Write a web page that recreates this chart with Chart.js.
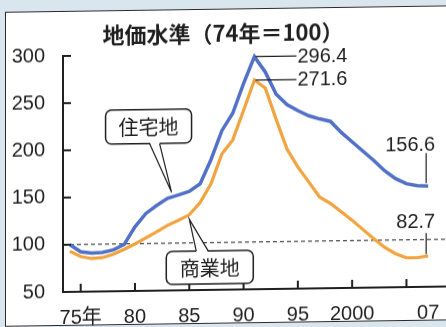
<!DOCTYPE html>
<html><head><meta charset="utf-8">
<script src="https://cdn.jsdelivr.net/npm/chart.js@4.4.1/dist/chart.umd.min.js"></script>
<style>
html,body{margin:0;padding:0;width:446px;height:327px;overflow:hidden;background:#d9e6ee;}
#wrap{position:absolute;left:0;top:0;width:446px;height:327px;transform:skewY(-0.82deg);transform-origin:63px 0;}
#panel{position:absolute;left:5px;top:11px;width:470px;height:314.5px;background:#fff;border:1.5px solid #2b2b2b;box-sizing:border-box;}
canvas{position:absolute;left:0;top:0;}
</style></head>
<body>
<div id="wrap"><div id="panel"></div><canvas id="c" width="446" height="327"></canvas></div>
<script>
const titleText = '地価水準（74年＝100）';
const years = [1974,1975,1976,1977,1978,1979,1980,1981,1982,1983,1984,1985,1986,1987,1988,1989,1990,
  1991,1992,1993,1994,1995,1996,1997,1998,1999,2000,2001,2002,2003,2004,2005,2006,2007];
const residential = [100,92.3,90.9,91.4,93.8,99.3,118,131.9,140.3,147.7,151.1,154.6,162.5,188,218.5,236.7,268,
  296.4,280,256.3,245.2,238.5,233,229.5,226.7,214.8,204.6,194.6,184.6,173.5,165,159.5,157.3,156.6];
const commercial = [93,87.4,85,85.8,89.2,94.3,99.8,106,112.4,119,124.2,129.9,142.7,162.5,193.7,208.5,239.6,
  271.6,263,229.7,198,178.8,162.9,146.7,139.7,130.8,121.6,111.6,101.6,92.5,85.4,81,81,82.7];
const seriesNames = ['住宅地','商業地'];
const xTickValues = [1975,1980,1985,1990,1995,2000,2005,2007];
const xTickLabels = ['75年','80','85','90','95','2000','','07'];
const yTickValues = [50,100,150,200,250,300];
const baseIndex = 100;
const residentialCalloutYear = 1983;
const commercialCalloutYear = 1985;

const FONT = "'Liberation Sans','Noto Sans CJK JP',Arial,sans-serif";
const CJK = "'Noto Sans CJK JP','Liberation Sans',sans-serif";
const INK = '#1f1f1f';
const BLUE = '#5171c6';
const ORANGE = '#f2a33f';

function roundRectPath(ctx, l, t, r, b, rad) {
  ctx.beginPath();
  ctx.moveTo(l + rad, t);
  ctx.lineTo(r - rad, t); ctx.arcTo(r, t, r, t + rad, rad);
  ctx.lineTo(r, b - rad); ctx.arcTo(r, b, r - rad, b, rad);
  ctx.lineTo(l + rad, b); ctx.arcTo(l, b, l, b - rad, rad);
  ctx.lineTo(l, t + rad); ctx.arcTo(l, t, l + rad, t, rad);
  ctx.closePath();
}
function callout(ctx, tip, box, baseY, b1, b2, text) {
  ctx.save();
  roundRectPath(ctx, box.l, box.t, box.r, box.b, 6);
  ctx.fillStyle = '#fff'; ctx.fill();
  ctx.strokeStyle = INK; ctx.lineWidth = 1.5; ctx.stroke();
  const inward = baseY === box.b ? -1.5 : 1.5;
  ctx.beginPath();
  ctx.moveTo(b1, baseY + inward); ctx.lineTo(tip.x, tip.y); ctx.lineTo(b2, baseY + inward); ctx.closePath();
  ctx.fillStyle = '#fff'; ctx.fill();
  ctx.lineWidth = 1.2;
  ctx.beginPath(); ctx.moveTo(b1, baseY); ctx.lineTo(tip.x, tip.y); ctx.lineTo(b2, baseY); ctx.stroke();
  ctx.fillStyle = INK; ctx.font = '20px ' + CJK; ctx.textAlign = 'center'; ctx.textBaseline = 'middle';
  ctx.fillText(text, (box.l + box.r) / 2, (box.t + box.b) / 2 + 1);
  ctx.restore();
}

const decor = {
  id: 'decor',
  beforeDatasetsDraw(chart) {
    const {ctx, chartArea: a, scales: {y}} = chart;
    const yy = y.getPixelForValue(baseIndex);
    ctx.save();
    ctx.strokeStyle = INK; ctx.lineWidth = 1.1; ctx.setLineDash([4, 3]);
    ctx.beginPath(); ctx.moveTo(a.left, yy); ctx.lineTo(a.right, yy); ctx.stroke();
    ctx.restore();
  },
  afterDraw(chart) {
    const {ctx, chartArea: a, scales: {x, y}} = chart;
    ctx.save();
    ctx.strokeStyle = INK; ctx.lineWidth = 2;
    xTickValues.filter(v => v % 5 === 0).forEach(v => {
      const px = x.getPixelForValue(v);
      ctx.beginPath(); ctx.moveTo(px, a.bottom); ctx.lineTo(px, a.bottom - 8); ctx.stroke();
    });
    yTickValues.forEach(v => {
      const py = y.getPixelForValue(v);
      ctx.beginPath(); ctx.moveTo(a.left - 1, py); ctx.lineTo(a.left + 8, py); ctx.stroke();
    });
    ctx.lineWidth = 1.2;
    ctx.fillStyle = INK; ctx.font = '20px ' + FONT; ctx.textBaseline = 'middle';
    [residential, commercial].forEach(arr => {
      const i = arr.indexOf(Math.max(...arr));
      const px = x.getPixelForValue(years[i]), py = y.getPixelForValue(arr[i]);
      ctx.beginPath(); ctx.moveTo(px + 1, py); ctx.lineTo(px + 42, py); ctx.stroke();
      ctx.textAlign = 'left';
      ctx.fillText(String(arr[i]), px + 43, py + 1);
    });
    const last = years.length - 1;
    const ex = x.getPixelForValue(years[last]);
    const rY = y.getPixelForValue(residential[last]);
    ctx.beginPath(); ctx.moveTo(ex - 2, rY - 33); ctx.lineTo(ex - 2, rY - 3); ctx.stroke();
    ctx.textAlign = 'right';
    ctx.fillText(String(residential[last]), ex + 7, rY - 41);
    const cY = y.getPixelForValue(commercial[last]);
    ctx.beginPath(); ctx.moveTo(ex - 2, cY - 23); ctx.lineTo(ex - 2, cY - 2); ctx.stroke();
    ctx.fillText(String(commercial[last]), ex + 7, cY - 34);
    ctx.restore();
    const ri = years.indexOf(residentialCalloutYear);
    const t1 = {x: x.getPixelForValue(years[ri]) + 4, y: y.getPixelForValue(residential[ri]) - 6};
    const box1 = {l: t1.x - 66, r: t1.x + 20, t: t1.y - 83, b: t1.y - 49};
    callout(ctx, t1, box1, box1.b, t1.x - 22, t1.x - 12, seriesNames[0]);
    const ci = years.indexOf(commercialCalloutYear);
    const t2 = {x: x.getPixelForValue(years[ci]), y: y.getPixelForValue(commercial[ci]) + 4.5};
    const box2 = {l: t2.x - 23, r: t2.x + 64, t: t2.y + 32, b: t2.y + 65};
    callout(ctx, t2, box2, box2.t, t2.x + 7, t2.x + 19, seriesNames[1]);
  }
};

new Chart(document.getElementById('c'), {
  type: 'line',
  data: {
    datasets: [
      {label: seriesNames[0], data: years.map((yr, i) => ({x: yr, y: residential[i]})),
       borderColor: BLUE, borderWidth: 3.5, pointRadius: 0, tension: 0, fill: false},
      {label: seriesNames[1], data: years.map((yr, i) => ({x: yr, y: commercial[i]})),
       borderColor: ORANGE, borderWidth: 3.2, pointRadius: 0, tension: 0, fill: false}
    ]
  },
  options: {
    responsive: false, animation: false, devicePixelRatio: 1,
    layout: {padding: 0},
    plugins: {
      legend: {display: false}, tooltip: {enabled: false},
      title: {display: true, text: titleText, color: INK,
        font: {family: CJK, size: 22, weight: 'bold', lineHeight: 1.2},
        padding: {top: 22, bottom: 7.6}}
    },
    scales: {
      x: {type: 'linear', min: 1973.37, max: 2008.64,
        afterBuildTicks: s => { s.ticks = xTickValues.map(v => ({value: v})); },
        afterFit: s => { s.height = 35; },
        ticks: {autoSkip: false, maxRotation: 0, padding: 6, color: INK,
          font: {family: FONT, size: 20},
          callback: v => xTickLabels[xTickValues.indexOf(v)]},
        grid: {display: false},
        border: {display: true, color: INK, width: 2}},
      y: {min: 50, max: 300,
        afterBuildTicks: s => { s.ticks = yTickValues.map(v => ({value: v})); },
        afterFit: s => { s.width = 63; },
        ticks: {padding: 10, color: INK, font: {family: FONT, size: 20},
          callback: v => String(v)},
        grid: {display: false},
        border: {display: true, color: INK, width: 2}}
    }
  },
  plugins: [decor]
});
</script>
</body></html>
